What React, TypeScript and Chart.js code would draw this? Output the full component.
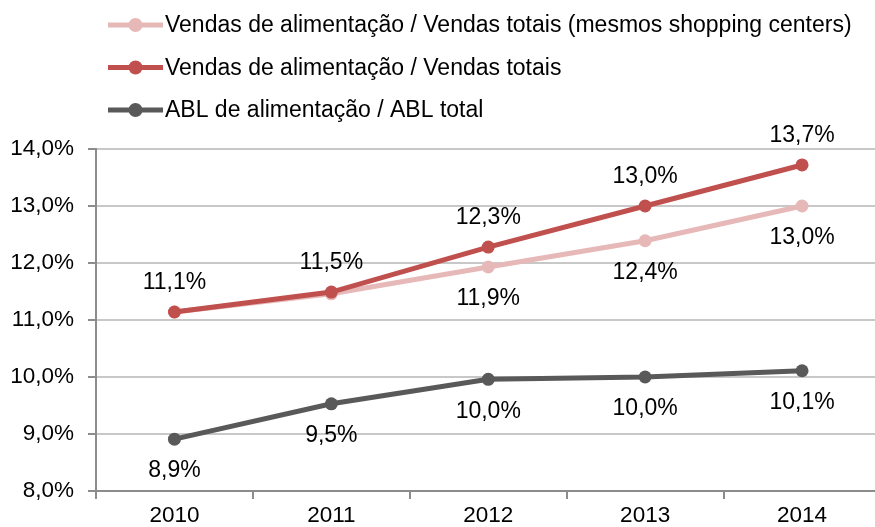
import React, { useEffect, useRef } from 'react';
import { Chart, registerables } from 'chart.js';

Chart.register(...registerables);

// ---- data ----
const years = ['2010', '2011', '2012', '2013', '2014'];
const sameMallFoodShare = [11.14, 11.46, 11.93, 12.39, 13.0];
const totalFoodShare = [11.14, 11.49, 12.28, 13.0, 13.72];
const foodGlaShare = [8.91, 9.53, 9.96, 10.0, 10.11];
const seriesNames = [
  'Vendas de alimentação / Vendas totais (mesmos shopping centers)',
  'Vendas de alimentação / Vendas totais',
  'ABL de alimentação / ABL total',
];
const yMin = 8;
const yMax = 14;
const yStep = 1;

// ---- styles ----
const FONT = '"Liberation Sans", Arial, Helvetica, sans-serif';
const colors = ['#E6B9B8', '#C0504D', '#595959'];
const labelPlacement = ['below', 'above', 'below'];
const labelVisible = [
  [false, false, true, true, true],
  [true, true, true, true, true],
  [true, true, true, true, true],
];

const fmt = (v: number) => v.toFixed(1).replace('.', ',') + '%';

const legendPlugin = {
  id: 'manualLegend',
  afterDraw(chart: any) {
    const ctx = chart.ctx;
    const rows = [25, 67.5, 110];
    chart.data.datasets.forEach((ds: any, i: number) => {
      const y = rows[i];
      ctx.save();
      ctx.strokeStyle = ds.borderColor;
      ctx.lineWidth = 5;
      ctx.beginPath();
      ctx.moveTo(108, y);
      ctx.lineTo(163, y);
      ctx.stroke();
      ctx.fillStyle = ds.borderColor;
      ctx.beginPath();
      ctx.arc(135.5, y, 7, 0, Math.PI * 2);
      ctx.fill();
      ctx.fillStyle = '#000';
      ctx.font = `23px ${FONT}`;
      ctx.textAlign = 'left';
      ctx.textBaseline = 'middle';
      ctx.fillText(ds.label, 165, y + 1);
      ctx.restore();
    });
  },
};

const dataLabelPlugin = {
  id: 'pointValueLabels',
  afterDatasetsDraw(chart: any) {
    const ctx = chart.ctx;
    ctx.save();
    ctx.font = `23px ${FONT}`;
    ctx.fillStyle = '#000';
    ctx.textAlign = 'center';
    ctx.textBaseline = 'middle';
    chart.data.datasets.forEach((ds: any, i: number) => {
      const meta = chart.getDatasetMeta(i);
      meta.data.forEach((pt: any, j: number) => {
        if (!labelVisible[i][j]) return;
        const dy = labelPlacement[i] === 'above' ? -29 : 32;
        ctx.fillText(fmt(ds.data[j]), pt.x, pt.y + dy);
      });
    });
    ctx.restore();
  },
};

export default function App() {
  const ref = useRef<HTMLCanvasElement>(null);

  useEffect(() => {
    if (!ref.current) return;
    const seriesData = [sameMallFoodShare, totalFoodShare, foodGlaShare];
    const chart = new Chart(ref.current, {
      type: 'line',
      data: {
        labels: years,
        datasets: seriesData.map((d, i) => ({
          label: seriesNames[i],
          data: d,
          borderColor: colors[i],
          backgroundColor: colors[i],
          pointBackgroundColor: colors[i],
          pointBorderWidth: 0,
          pointRadius: 6.5,
          borderWidth: 5,
          tension: 0,
          fill: false,
          order: i === 1 ? 0 : i === 0 ? 1 : 2,
        })),
      },
      options: {
        animation: false,
        responsive: true,
        maintainAspectRatio: false,
        layout: { padding: { top: 149, left: 0, right: 0, bottom: 0 } },
        plugins: {
          legend: { display: false },
          tooltip: { enabled: false },
        },
        scales: {
          x: {
            offset: true,
            afterFit: (scale: any) => {
              scale.height = 36;
            },
            grid: {
              offset: true,
              drawOnChartArea: false,
              drawTicks: true,
              tickLength: 8,
              color: '#8C8C8C',
              lineWidth: 2,
            },
            border: { color: '#8C8C8C', width: 2 },
            ticks: {
              color: '#000',
              font: { family: FONT, size: 22.5 },
              padding: 3,
              maxRotation: 0,
            },
          },
          y: {
            min: yMin,
            max: yMax,
            afterFit: (scale: any) => {
              scale.width = 96;
            },
            grid: {
              color: '#C8C8C8',
              lineWidth: 2,
              tickColor: '#8C8C8C',
              tickLength: 8,
            },
            border: { color: '#8C8C8C', width: 2 },
            ticks: {
              stepSize: yStep,
              color: '#000',
              font: { family: FONT, size: 22.5 },
              padding: 14,
              callback: (v: any) => fmt(Number(v)),
            },
          },
        },
      },
      plugins: [dataLabelPlugin, legendPlugin],
    });
    return () => chart.destroy();
  }, []);

  return (
    <div
      style={{
        position: 'fixed',
        left: 0,
        top: 0,
        width: '887px',
        height: '527px',
        background: '#fff',
      }}
    >
      <canvas ref={ref} />
    </div>
  );
}
